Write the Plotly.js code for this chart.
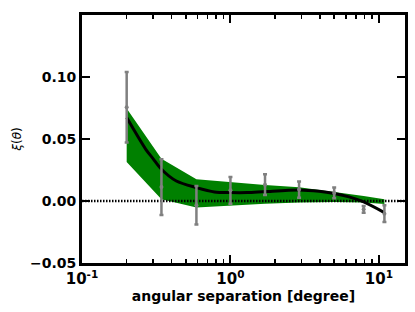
<!DOCTYPE html>
<html>
<head>
<meta charset="utf-8">
<script src="https://cdn.plot.ly/plotly-3.0.1.min.js"></script>
<style>html,body{margin:0;padding:0;background:#fff;}#chart{width:415px;height:312px;}</style>
</head>
<body>
<div id="chart"></div>
<script>
// Measured correlation function points
const thetaX = [0.2, 0.343, 0.59, 1.0, 1.71, 2.9, 5.0, 7.9, 10.9];
const xiY = [0.0756, 0.0112, -0.0035, 0.0086, 0.0132, 0.0092, 0.0065, -0.0067, -0.0102];
const xiErr = [0.0285, 0.0225, 0.0155, 0.0108, 0.0084, 0.0065, 0.0043, 0.0027, 0.0067];

// Model band (upper / lower envelope)
const bandUpper = [0.0745, 0.0340, 0.0175, 0.0150, 0.0130, 0.0110, 0.0075, 0.0040, 0.0015];
const bandLower = [0.0315, 0.0015, -0.0053, -0.0035, -0.0022, -0.0012, -0.0008, -0.0012, -0.0025];

// Best-fit model curve
const curveX = [0.2, 0.269, 0.301, 0.343, 0.432, 0.59, 0.78, 1.0, 1.3, 1.71, 2.9, 3.96, 5.0, 6.3, 7.9, 10.9];
const curveY = [0.0673, 0.0417, 0.0342, 0.0256, 0.0161, 0.0108, 0.0073, 0.0068, 0.0068, 0.0076, 0.0089, 0.0078, 0.0060, 0.0033, -0.0008, -0.0094];

// Axis extents and ticks
const xRange = [0.1, 15];
const yRange = [-0.05, 0.15];
const xTickVals = [0.1, 1, 10];
const xTickText = ['10<sup>-1</sup>', '10<sup>0</sup>', '10<sup>1</sup>'];
const xMinorVals = [0.2,0.3,0.4,0.5,0.6,0.7,0.8,0.9,2,3,4,5,6,7,8,9];
const yTickVals = [-0.05, 0, 0.05, 0.10];

const font = 'DejaVu Sans, sans-serif';

const traces = [
  {x: thetaX, y: bandLower, mode: 'lines', line: {width: 0, color: 'green'}, hoverinfo: 'skip', showlegend: false},
  {x: thetaX, y: bandUpper, mode: 'lines', line: {width: 0, color: 'green'}, fill: 'tonexty', fillcolor: '#008000', hoverinfo: 'skip', showlegend: false},
  {x: xRange, y: [0, 0], mode: 'lines', line: {color: 'black', width: 2.5, dash: '1.5px,1.5px'}, showlegend: false},
  {x: curveX, y: curveY, mode: 'lines', line: {color: 'black', width: 3, shape: 'spline', smoothing: 0.8}, showlegend: false},
  {x: thetaX, y: xiY, mode: 'markers', marker: {color: '#808080', size: 4},
   error_y: {type: 'data', array: xiErr, color: '#808080', thickness: 2.5, width: 2}, showlegend: false}
];

const layout = {
  width: 415, height: 312,
  margin: {l: 82, r: 10, t: 15, b: 49},
  paper_bgcolor: '#fff', plot_bgcolor: '#fff',
  showlegend: false,
  xaxis: {
    type: 'log', range: xRange.map(Math.log10),
    tickmode: 'array', tickvals: xTickVals, ticktext: xTickText,
    ticks: 'inside', ticklen: 8, tickwidth: 2, tickcolor: 'black',
    minor: {tickmode: 'array', tickvals: xMinorVals, ticks: 'inside', ticklen: 4, tickwidth: 1.5, tickcolor: 'black', showgrid: false},
    showline: true, linecolor: 'black', linewidth: 3, mirror: 'ticks',
    showgrid: false, zeroline: false,
    tickfont: {family: font, size: 15, color: 'black', weight: 'bold'},
    title: {text: 'angular separation [degree]', font: {family: font, size: 14, color: 'black', weight: 'bold'}, standoff: 3}
  },
  yaxis: {
    range: yRange,
    tickmode: 'array', tickvals: yTickVals, tickformat: '.2f',
    ticks: 'inside', ticklen: 8, tickwidth: 2, tickcolor: 'black',
    showline: true, linecolor: 'black', linewidth: 3, mirror: 'ticks',
    showgrid: false, zeroline: false,
    tickfont: {family: font, size: 14, color: 'black', weight: 'bold'},
    title: {text: '<i>ξ</i>(<i>θ</i>)', font: {family: font, size: 12, color: 'black'}, standoff: 6}
  }
};

Plotly.newPlot('chart', traces, layout, {displayModeBar: false, staticPlot: true});
</script>
</body>
</html>
